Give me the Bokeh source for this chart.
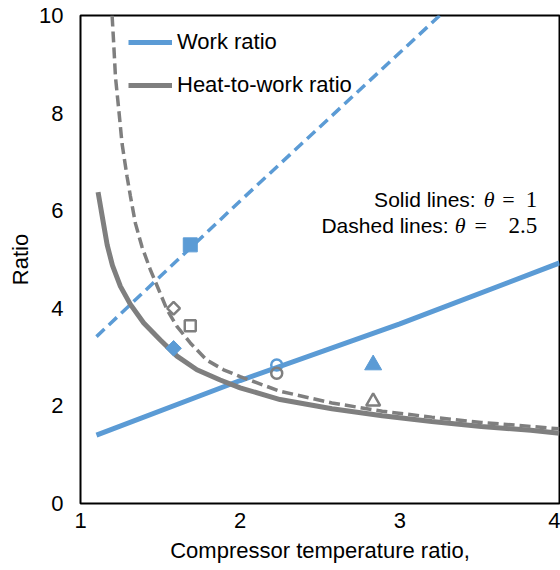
from bokeh.plotting import figure
from bokeh.models import Range1d, Legend, LegendItem, FixedTicker
from bokeh.embed import file_html
from bokeh.resources import INLINE
from bokeh.core.properties import value

# ---------------- data ----------------
# Work ratio, theta = 1 (solid blue)
tau_work_1 = [1.10, 2.00, 3.00, 4.00]
work_1 = [1.40, 2.52, 3.68, 4.93]
# Work ratio, theta = 2.5 (dashed blue)
tau_work_25 = [1.10, 2.00, 3.25]
work_25 = [3.42, 6.20, 10.0]
# Heat-to-work ratio, theta = 1 (solid gray)
tau_heat_1 = [1.11, 1.13, 1.167, 1.2, 1.25, 1.3125, 1.396, 1.5, 1.604, 1.729,
              1.875, 2.0, 2.25, 2.575, 2.89, 3.2, 3.51, 3.82, 4.0]
heat_1 = [6.38, 6.00, 5.30, 4.88, 4.45, 4.08, 3.70, 3.35, 3.02, 2.74,
          2.53, 2.37, 2.13, 1.94, 1.80, 1.68, 1.58, 1.50, 1.44]
# Heat-to-work ratio, theta = 2.5 (dashed gray)
tau_heat_25 = [1.198, 1.208, 1.219, 1.240, 1.260, 1.292, 1.3125, 1.344, 1.385,
               1.4375, 1.49, 1.542, 1.604, 1.6875, 1.79, 1.896, 2.0, 2.25,
               2.575, 2.89, 3.2, 3.51, 3.82, 4.0]
heat_25 = [10.0, 9.42, 8.74, 8.06, 7.38, 6.69, 6.30, 5.74, 5.26,
           4.79, 4.38, 3.97, 3.63, 3.29, 2.94, 2.74, 2.60, 2.30,
           2.06, 1.89, 1.77, 1.66, 1.58, 1.53]

# individual points
sq_tau, sq_work, sq_heat = [1.6875], [5.30], [3.64]
dia_tau, dia_work, dia_heat = [1.583], [3.18], [4.00]
cir_tau, cir_work, cir_heat = [2.229], [2.84], [2.67]
tri_tau, tri_work, tri_heat = [2.833], [2.84], [2.09]

x_ticks = [1, 2, 3, 4]
y_ticks = [0, 2, 4, 6, 8, 10]

legend_labels = ["Work ratio", "Heat-to-work ratio"]
x_title = "Compressor temperature ratio,"
y_title = "Ratio"

BLUE = "#5B9BD5"
GRAY = "#7F7F7F"
FONT = "Liberation Sans"
SERIF = "Liberation Serif"

# ---------------- figure ----------------
p = figure(width=560, height=570, output_backend="svg", toolbar_location=None,
           x_range=Range1d(1, 4), y_range=Range1d(0, 10),
           min_border_left=80, min_border_right=1, min_border_top=15,
           min_border_bottom=67)
p.background_fill_color = "white"
p.border_fill_color = "white"
p.outline_line_color = "black"
p.outline_line_width = 2
p.xgrid.visible = False
p.ygrid.visible = False

for ax in (p.xaxis[0], p.yaxis[0]):
    ax.axis_line_color = None
    ax.major_tick_line_color = None
    ax.minor_tick_line_color = None
    ax.major_tick_out = 0
    ax.major_tick_in = 0
    ax.major_label_text_font = FONT
    ax.major_label_text_font_size = "22px"
    ax.major_label_text_color = "black"
    ax.axis_label_text_font = FONT
    ax.axis_label_text_font_size = "22px"
    ax.axis_label_text_font_style = "normal"
    ax.axis_label_text_color = "black"

p.xaxis.ticker = FixedTicker(ticks=x_ticks)
p.yaxis.ticker = FixedTicker(ticks=y_ticks)
p.xaxis.major_label_standoff = 9
p.yaxis.major_label_standoff = 17
p.xaxis.axis_label = x_title
p.yaxis.axis_label = y_title
p.xaxis.axis_label_standoff = 7
p.yaxis.axis_label_standoff = 3

# lines
r_w1 = p.line(tau_work_1, work_1, line_color=BLUE, line_width=5)
r_w25 = p.line(tau_work_25, work_25, line_color=BLUE, line_width=3.5, line_dash="11 6")
r_h1 = p.line(tau_heat_1, heat_1, line_color=GRAY, line_width=5)
r_h25 = p.line(tau_heat_25, heat_25, line_color=GRAY, line_width=3.5, line_dash="11 5")

# markers
p.scatter(sq_tau, sq_work, marker="square", size=14, fill_color=BLUE, line_color=BLUE)
p.scatter(sq_tau, sq_heat, marker="square", size=11, fill_color="white",
          line_color=GRAY, line_width=2.5)
p.scatter(dia_tau, dia_work, marker="square", angle=0.785398, size=11,
          fill_color=BLUE, line_color=BLUE)
p.scatter(dia_tau, dia_heat, marker="square", angle=0.785398, size=9,
          fill_color="white", line_color=GRAY, line_width=2.5)
p.scatter(cir_tau, cir_work, marker="circle", size=11, fill_color=None,
          line_color=BLUE, line_width=2.5)
p.scatter(cir_tau, cir_heat, marker="circle", size=11, fill_color=None,
          line_color=GRAY, line_width=2.5)
p.scatter(tri_tau, tri_work, marker="triangle", size=17, fill_color=BLUE, line_color=BLUE)
p.scatter(tri_tau, tri_heat, marker="triangle", size=14, fill_color="white",
          line_color=GRAY, line_width=2.5)

# annotation texts
p.text(x=[3.475, 3.306], y=[6.22, 5.69], text=["Solid lines:", "Dashed lines:"],
       text_font=value(FONT), text_font_size="21px", text_color="black",
       text_align="right", text_baseline="alphabetic")
p.text(x=[3.525, 3.344], y=[6.22, 5.69], text=["\u03b8", "\u03b8"],
       text_font=value(SERIF), text_font_style="italic", text_font_size="22px",
       text_color="black", text_align="left", text_baseline="alphabetic")
p.text(x=[3.68, 3.506], y=[6.22, 5.69], text=["=", "="],
       text_font=value(SERIF), text_font_size="22px", text_color="black",
       text_align="center", text_baseline="alphabetic")
p.text(x=[3.86, 3.86], y=[6.22, 5.69], text=["1", "2.5"],
       text_font=value(SERIF), text_font_size="23px", text_color="black",
       text_align="right", text_baseline="alphabetic")

# legend
legend = Legend(items=[LegendItem(label=legend_labels[0], renderers=[r_w1]),
                       LegendItem(label=legend_labels[1], renderers=[r_h1])],
                location=(48, 405), padding=0, margin=0, spacing=17,
                glyph_width=44, glyph_height=24, label_height=24,
                label_standoff=5, border_line_color=None,
                background_fill_alpha=0,
                label_text_font=FONT, label_text_font_size="22px",
                label_text_color="black")
p.add_layout(legend, "center")

open("out.html", "w").write(file_html(p, INLINE))
